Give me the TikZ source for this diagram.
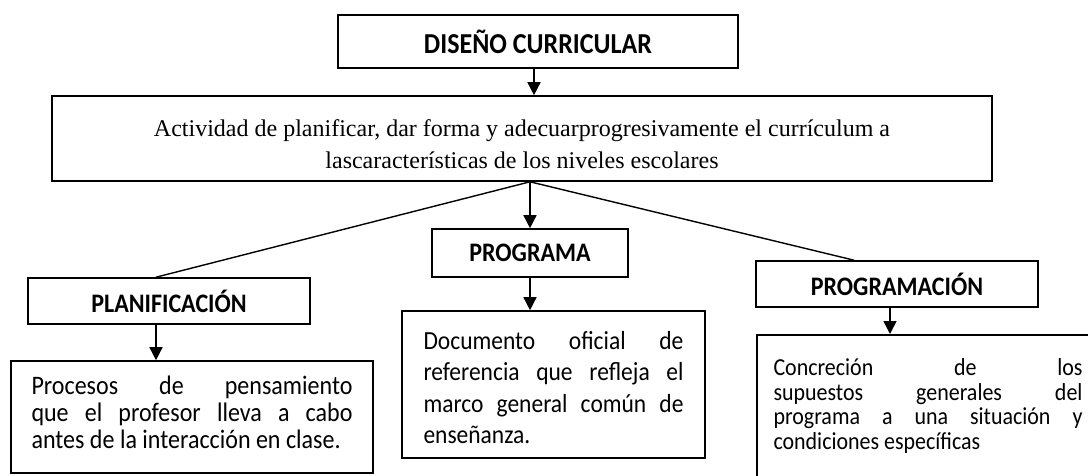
\documentclass[tikz,border=0pt]{standalone}
\usepackage{fontspec}
\setmainfont{Carlito}[FakeStretch=0.9]
\newfontfamily\timesfont{Liberation Serif}
\usetikzlibrary{arrows.meta,calc}

\begin{document}
\begin{tikzpicture}[x=1pt,y=-1pt,
  titlebox/.style={draw,line width=1.6pt,inner sep=0pt,
                   font=\fontsize{26.7}{30}\selectfont\bfseries},
  textbox/.style={draw,line width=1.6pt,align=justify},
  arr/.style={line width=1.5pt,-{Triangle[width=13pt,length=13pt]}},
  link/.style={line width=1.4pt}]
\useasboundingbox[fill=white] (0,0) rectangle (1088,476);

% top level
\node[titlebox,minimum width=400pt,minimum height=53pt,
      font=\fontsize{28.9}{32}\selectfont\bfseries] (diseno) at (538,41.5)
  {DISEÑO CURRICULAR};
\node[draw,line width=1.6pt,minimum width=940pt,minimum height=85pt,align=center,
      font=\timesfont\fontsize{24}{32}\selectfont] (activ) at (522,138.5)
  {\rule{0pt}{28pt}Actividad de planificar, dar forma y adecuarprogresivamente el currículum a\\
   lascaracterísticas de los niveles escolares};

% three branches
\node[titlebox,minimum width=282pt,minimum height=46pt] (planif) at (169,301) {PLANIFICACIÓN};
\node[titlebox,minimum width=196pt,minimum height=48pt] (prog) at (530,253) {PROGRAMA};
\node[titlebox,minimum width=282pt,minimum height=46pt] (progm) at (897,284) {PROGRAMACIÓN};

\node[textbox,text width=321pt,inner xsep=20.5pt,minimum height=112pt,
      font=\fontsize{26.7}{27}\selectfont] (planifT) at (192,417)
  {Procesos de pensamiento\linebreak que el profesor lleva a cabo\linebreak
   antes de la interacción en clase.\rule[-10pt]{0pt}{10pt}};
\node[textbox,text width=260pt,inner xsep=21.5pt,minimum height=147pt,
      font=\fontsize{26.1}{31.5}\selectfont] (progT) at (553.5,384.5)
  {\rule{0pt}{24pt}Documento oficial de\linebreak referencia que refleja el\linebreak
   marco general común de\linebreak enseñanza.};
\node[textbox,text width=309pt,inner xsep=16.7pt,inner ysep=24pt,anchor=north west,
      font=\fontsize{24.4}{24.5}\selectfont] (progmT) at (756,334)
  {Concreción de los\linebreak supuestos generales del\linebreak
   programa a una situación y\linebreak condiciones específicas\rule[-60pt]{0pt}{60pt}};

% connectors
\draw[arr] ([xshift=-4pt]diseno.south) -- ([xshift=-4pt]diseno.south |- activ.north);
\coordinate (hub) at (prog.north |- activ.south);
\draw[arr] (hub) -- (prog.north);
\draw[link] (hub) -- ([xshift=-13pt]planif.north);
\draw[link] (hub) -- ([xshift=-43pt]progm.north);
\draw[arr] ([xshift=-13pt]planif.south) -- ([xshift=-13pt]planif.south |- planifT.north);
\draw[arr] (prog.south) -- (prog.south |- progT.north);
\draw[arr] ([xshift=-7pt]progm.south) -- ([xshift=-7pt]progm.south |- progmT.north);
\end{tikzpicture}
\end{document}
